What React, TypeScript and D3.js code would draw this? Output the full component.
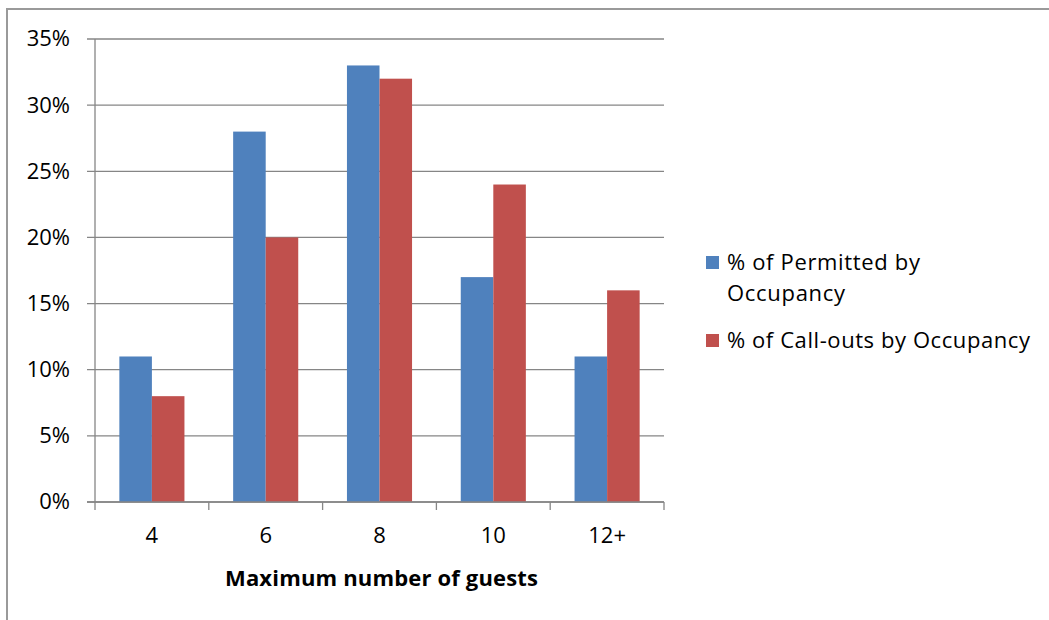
import { useMemo } from 'react';
import * as d3 from 'd3';

const categories = ['4', '6', '8', '10', '12+'];
const permitted = [11, 28, 33, 17, 11];
const callouts = [8, 20, 32, 24, 16];
const yTicks = [0, 5, 10, 15, 20, 25, 30, 35];
const seriesNames = ['% of Permitted by Occupancy', '% of Call-outs by Occupancy'];
const colors = ['#4F81BD', '#C0504D'];

const W = 1049;
const H = 620;
const FONT = '"Open Sans", Lato, sans-serif';

export default function App() {
  const m = { l: 95, r: 664, t: 39, b: 502 };

  const x = useMemo(
    () => d3.scaleBand<string>().domain(categories).range([m.l, m.r]).paddingInner(0).paddingOuter(0),
    []
  );
  const y = useMemo(() => d3.scaleLinear().domain([0, 35]).range([m.b, m.t]), []);

  const bw = x.bandwidth();
  const barW = bw * 0.286;
  const series = [permitted, callouts];

  return (
    <svg
      width={W}
      height={H}
      style={{ position: 'absolute', left: 0, top: 0, background: '#fff' }}
      fontFamily={FONT}
    >
      {/* outer frame */}
      <rect x={7} y={9} width={W + 10} height={H + 10} fill="none" stroke="#9a9a9a" strokeWidth={2} />

      {/* gridlines + y ticks */}
      {yTicks.map(t => (
        <g key={t}>
          <line x1={m.l - 8} x2={m.r} y1={y(t)} y2={y(t)} stroke="#868686" strokeWidth={1.3} />
          <text x={70} y={y(t)} dy="0.34em" textAnchor="end" fontSize={22} fill="#000">
            {t}%
          </text>
        </g>
      ))}

      {/* bars */}
      {series.map((vals, si) =>
        vals.map((v, i) => {
          const cx = (x(categories[i]) ?? 0) + bw / 2;
          const bx = si === 0 ? cx - barW : cx;
          return (
            <rect key={`${si}-${i}`} x={bx} y={y(v)} width={barW} height={y(0) - y(v)} fill={colors[si]} />
          );
        })
      )}

      {/* y axis */}
      <line x1={m.l} x2={m.l} y1={m.t} y2={m.b} stroke="#868686" strokeWidth={1.3} />
      {/* x axis */}
      <line x1={m.l - 8} x2={m.r} y1={m.b} y2={m.b} stroke="#868686" strokeWidth={1.3} />
      {categories.map(c => (
        <line key={c} x1={x(c)} x2={x(c)} y1={m.b} y2={m.b + 8} stroke="#868686" strokeWidth={1.3} />
      ))}
      <line x1={m.r} x2={m.r} y1={m.b} y2={m.b + 8} stroke="#868686" strokeWidth={1.3} />
      {categories.map(c => (
        <text key={c} x={(x(c) ?? 0) + bw / 2} y={543} textAnchor="middle" fontSize={22}>
          {c}
        </text>
      ))}
      <text
        x={225}
        y={586}
        fontSize={22}
        fontWeight="bold"
        textLength={313}
        lengthAdjust="spacing"
      >
        Maximum number of guests
      </text>

      {/* legend */}
      <rect x={706} y={256} width={13} height={13} fill={colors[0]} />
      <text x={727} y={270} fontSize={22} textLength={193} lengthAdjust="spacing">% of Permitted by</text>
      <text x={727} y={301} fontSize={22} textLength={118} lengthAdjust="spacing">Occupancy</text>
      <rect x={706} y={334} width={13} height={13} fill={colors[1]} />
      <text x={727} y={348} fontSize={22} textLength={303} lengthAdjust="spacing">{seriesNames[1]}</text>
    </svg>
  );
}
